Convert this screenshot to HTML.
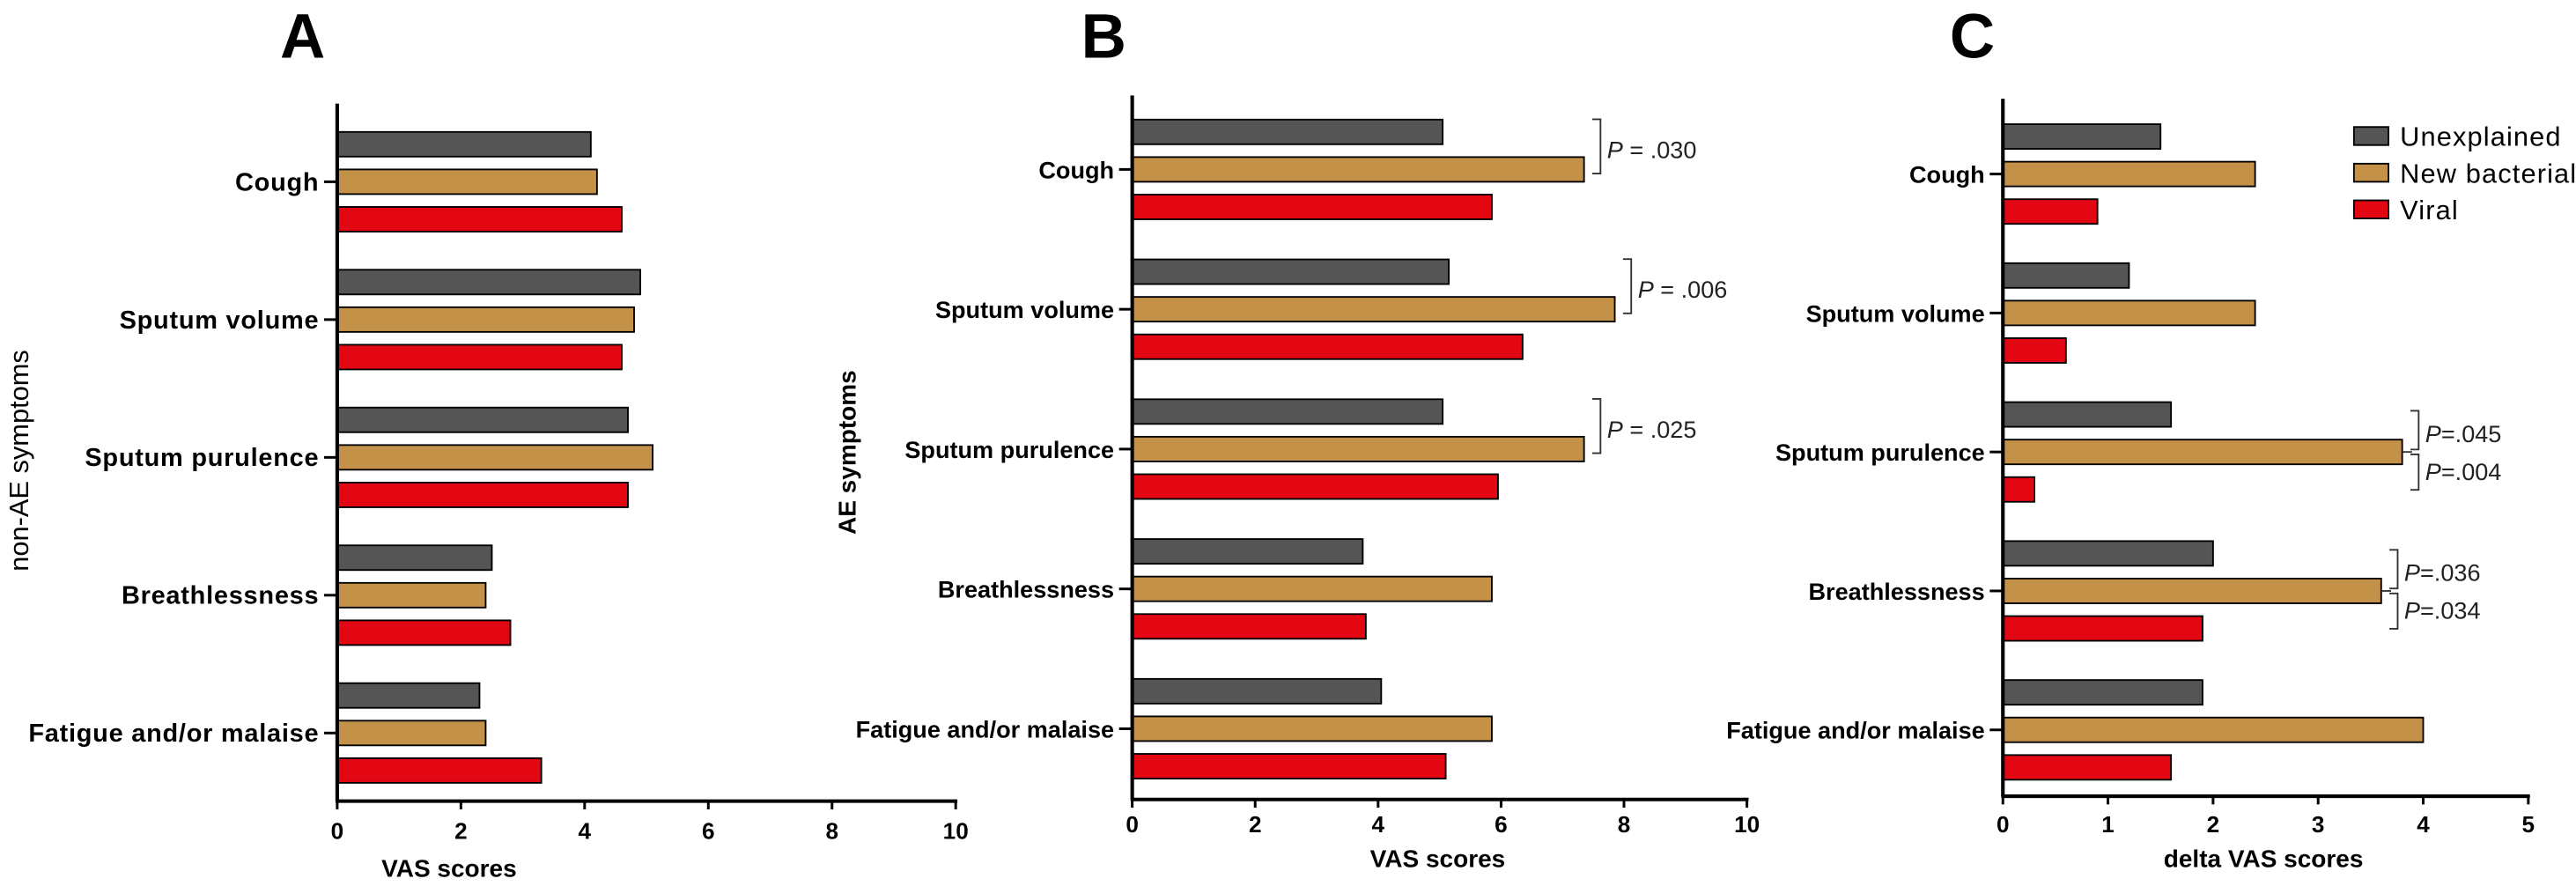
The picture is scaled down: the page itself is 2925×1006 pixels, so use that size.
<!DOCTYPE html>
<html><head><meta charset="utf-8"><style>
html,body{margin:0;padding:0;background:#fff;}
svg{display:block;}
text{font-family:"Liberation Sans",Arial,sans-serif;}
</style></head><body>
<svg id="chart" width="2925" height="1006" viewBox="0 0 1566 538.6" preserveAspectRatio="none" xmlns="http://www.w3.org/2000/svg"></svg>
<script>
const categories = ["Cough","Sputum volume","Sputum purulence","Breathlessness","Fatigue and/or malaise"];
const seriesNames = ["Unexplained","New bacterial","Viral"];
const aUnexplained = [4.1, 4.9, 4.7, 2.5, 2.3];
const aNewBacterial = [4.2, 4.8, 5.1, 2.4, 2.4];
const aViral = [4.6, 4.6, 4.7, 2.8, 3.3];
const bUnexplained = [5.05, 5.15, 5.05, 3.75, 4.05];
const bNewBacterial = [7.35, 7.85, 7.35, 5.85, 5.85];
const bViral = [5.85, 6.35, 5.95, 3.8, 5.1];
const cUnexplained = [1.5, 1.2, 1.6, 2.0, 1.9];
const cNewBacterial = [2.4, 2.4, 3.8, 3.6, 4.0];
const cViral = [0.9, 0.6, 0.3, 1.9, 1.6];
const ticksAB = [0, 2, 4, 6, 8, 10];
const ticksC = [0, 1, 2, 3, 4, 5];
const pLabelsB = ["P = .030", "P = .006", "P = .025"];
const pLabelsC = ["P=.045", "P=.004", "P=.036", "P=.034"];

const colors = ["#555555", "#c49148", "#e30613"];
const NS = "http://www.w3.org/2000/svg";
const svg = document.getElementById("chart");
function mk(tag, attrs, parent) {
  const e = document.createElementNS(NS, tag);
  for (const k in attrs) e.setAttribute(k, attrs[k]);
  (parent || svg).appendChild(e);
  return e;
}

const panels = [
  {id:"a", letter:"A", letterX:184, x0:205, x1:581, max:10, ticks:ticksAB, top:63, bottom:487, cy0:110.5, cy1:445.6,
   data:[aUnexplained,aNewBacterial,aViral], tickY:505, title:"VAS scores", titleX:273, titleY:528,
   ylab:"non-AE symptoms", ylabX:12, ylabY:280, ylabBold:false, ylabFs:16.5, labFs:15.5, labLs:0.4},
  {id:"b", letter:"B", letterX:671, x0:688.3, x1:1062, max:10, ticks:ticksAB, top:58, bottom:486, cy0:103, cy1:443,
   data:[bUnexplained,bNewBacterial,bViral], tickY:501, title:"VAS scores", titleX:874, titleY:522,
   ylab:"AE symptoms", ylabX:515, ylabY:275, ylabBold:true, ylabFs:15, labFs:14.5, labLs:0},
  {id:"c", letter:"C", letterX:1199, x0:1217.6, x1:1537, max:5, ticks:ticksC, top:60, bottom:484, cy0:105.8, cy1:443.7,
   data:[cUnexplained,cNewBacterial,cViral], tickY:501, title:"delta VAS scores", titleX:1376, titleY:522,
   ylab:null, labFs:14.5, labLs:0}
];

panels.forEach(p => {
  const g = mk("g", {});
  
  
  const xs = v => p.x0 + (v / p.max) * (p.x1 - p.x0);
  const ys = i => p.cy0 + i * (p.cy1 - p.cy0) / (categories.length - 1);

  const L = mk("text", {x:p.letterX, y:35, "text-anchor":"middle", "font-size":38, "font-weight":"bold"}, g);
  L.textContent = p.letter;
  
  

  categories.forEach((c, i) => {
    p.data.forEach((arr, s) => {
      const yc = ys(i) + (s - 1) * 22.8;
      const r = mk("rect", {x:p.x0, y:yc - 7.5, width:xs(arr[i]) - p.x0, height:15, fill:colors[s], stroke:"#000", "stroke-width":1}, g);
      
      
    });
    mk("line", {x1:p.x0 - 8, x2:p.x0, y1:ys(i), y2:ys(i), stroke:"#000", "stroke-width":1.6}, g);
    const t = mk("text", {x:p.x0 - 11, y:ys(i) + 5.3, "text-anchor":"end", "font-size":p.labFs, "font-weight":"bold", "letter-spacing":p.labLs}, g);
    t.textContent = c;
    
    
  });

  const ya = mk("line", {x1:p.x0, x2:p.x0, y1:p.top, y2:p.bottom, stroke:"#000", "stroke-width":2.2}, g);
  
  
  const xa = mk("line", {x1:p.x0 - 1, x2:p.x1 + 1, y1:p.bottom, y2:p.bottom, stroke:"#000", "stroke-width":2.2}, g);
  
  
  p.ticks.forEach(v => {
    mk("line", {x1:xs(v), x2:xs(v), y1:p.bottom, y2:p.bottom + 5, stroke:"#000", "stroke-width":1.6}, g);
    const t = mk("text", {x:xs(v), y:p.tickY + 5, "text-anchor":"middle", "font-size":14, "font-weight":"bold"}, g);
    t.textContent = v;
    
    
  });
  const xt = mk("text", {x:p.titleX, y:p.titleY + 5, "text-anchor":"middle", "font-size":15, "font-weight":"bold"}, g);
  xt.textContent = p.title;
  
  
  if (p.ylab) {
    const yt = mk("text", {x:0, y:0, "text-anchor":"middle", "font-size":p.ylabFs, "font-weight":p.ylabBold ? "bold" : "normal",
      transform:"translate(" + (p.ylabX + 5) + "," + p.ylabY + ") rotate(-90)"}, g);
    yt.textContent = p.ylab;
    
    
  }
  p.xs = xs; p.ys = ys;
});

function bracket(x, y1, y2, label, tx, ty, name) {
  mk("path", {d:"M" + (x - 5) + "," + y1 + " H" + x + " V" + y2 + " H" + (x - 5), fill:"none", stroke:"#333", "stroke-width":1});
  const t = mk("text", {x:tx, y:ty + 5, "font-size":14.5, fill:"#222"});
  const parts = label.split("P");
  const ts = mk("tspan", {"font-style":"italic"}, t); ts.textContent = "P";
  const ts2 = mk("tspan", {}, t); ts2.textContent = parts[1];
  
  
}
const pb = panels[1], pc = panels[2];
[0,1,2].forEach((i, k) => {
  const bx = pb.xs(Math.max(bUnexplained[i], bNewBacterial[i])) + 10;
  bracket(bx, pb.ys(i) - 30.5, pb.ys(i) + 2.5, pLabelsB[k], bx + 4, pb.ys(i) - 12, 'p-value-b-' + i);
});
[2,3].forEach((i, k) => {
  const bx = pc.xs(cNewBacterial[i]) + 10;
  const y = pc.ys(i);
  mk("line", {x1:pc.xs(cNewBacterial[i]), x2:bx - 4, y1:y, y2:y, stroke:"#333", "stroke-width":1});
  bracket(bx, y - 25, y - 1.5, pLabelsC[k * 2], bx + 4, y - 11, 'p-value-c-' + i + '-upper');
  bracket(bx, y + 1.5, y + 23, pLabelsC[k * 2 + 1], bx + 4, y + 12, 'p-value-c-' + i + '-lower');
});

const lg = mk("g", {});


seriesNames.forEach((n, s) => {
  const y = 82.7 + s * 22.3;
  const r = mk("rect", {x:1431, y:y - 5.5, width:21, height:11, fill:colors[s], stroke:"#000", "stroke-width":1}, lg);
  
  
  const t = mk("text", {x:1459, y:y + 6, "font-size":16.5, "letter-spacing":0.6}, lg);
  t.textContent = n;
  
  
});
</script>
</body></html>
